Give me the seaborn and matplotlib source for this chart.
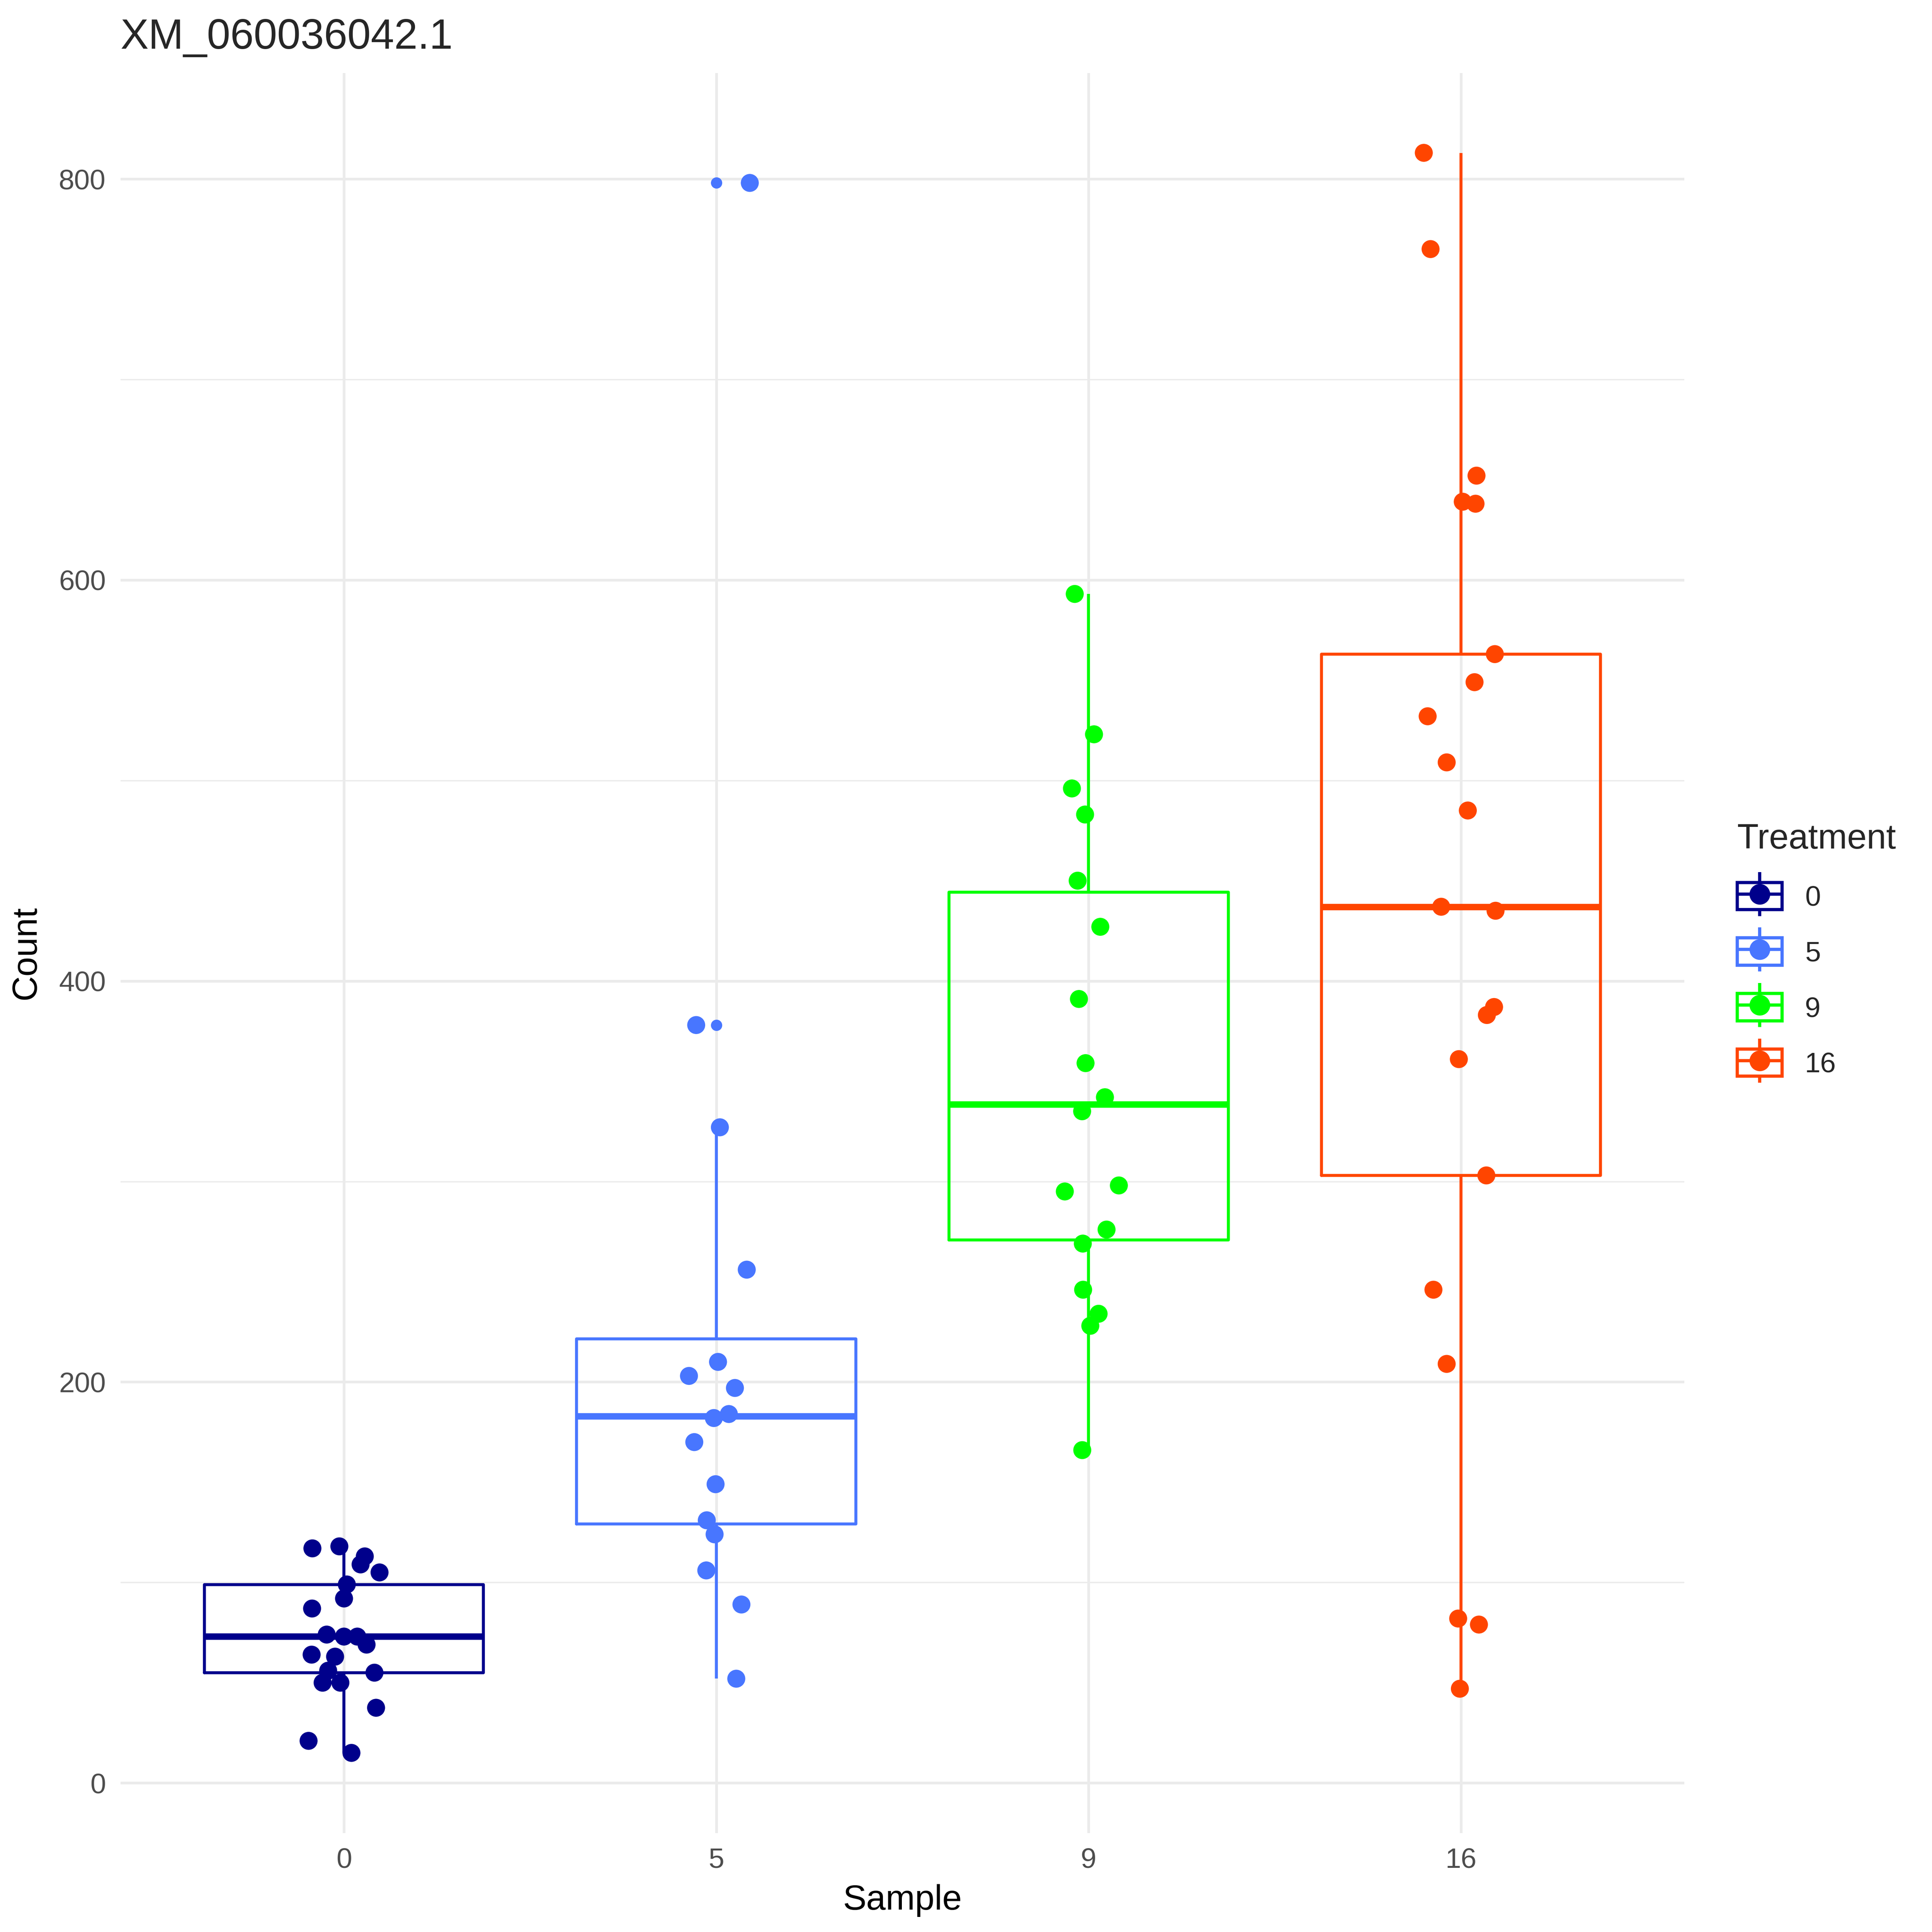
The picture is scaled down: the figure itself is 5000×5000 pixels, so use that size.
import numpy as np
import pandas as pd
import matplotlib
matplotlib.use("Agg")
import matplotlib.pyplot as plt
import seaborn as sns
from matplotlib.patches import Rectangle
from matplotlib.lines import Line2D
from matplotlib.legend_handler import HandlerTuple
from matplotlib.ticker import MultipleLocator

# counts per treatment
treatments = ["0", "5", "9", "16"]
colors = ["#00008B", "#4876FF", "#00FF00", "#FF4500"]

count_0 = [117, 113, 118, 109, 105, 99, 92, 87, 74, 73, 73, 69, 63, 64, 56, 55,
           50, 50, 37.5, 21, 15]
count_5 = [798, 378, 327, 256, 203, 210, 197, 184, 182, 170, 149, 131, 124, 106,
           89, 52]
count_9 = [593, 523, 496, 483, 450, 427, 391, 359, 342, 335, 298, 295, 276, 269,
           246, 234, 228, 166]
count_16 = [813, 765, 652, 639, 638, 563, 549, 532, 509, 485, 437, 435, 387, 383,
            361, 303, 246, 209, 82, 79, 47]

df = pd.DataFrame({
    "Sample": ["0"] * len(count_0) + ["5"] * len(count_5)
              + ["9"] * len(count_9) + ["16"] * len(count_16),
    "Count": count_0 + count_5 + count_9 + count_16,
})

sns.set_style("white")
plt.rcParams["font.family"] = ["Liberation Sans", "DejaVu Sans"]

fig = plt.figure(figsize=(10, 10), dpi=500)
ax = fig.add_axes([0.0624, 0.0513, 0.8094, 0.911])
pal = dict(zip(treatments, colors))

sns.boxplot(data=df, x="Sample", y="Count", hue="Sample", order=treatments,
            hue_order=treatments, palette=pal, fill=False, width=0.75,
            linewidth=1.1, showcaps=False, legend=False, ax=ax,
            medianprops=dict(linewidth=2.4),
            flierprops=dict(marker="o", markersize=4.2))
for ln in ax.lines:
    if ln.get_marker() == "o":
        ln.set_markerfacecolor(ln.get_markeredgecolor())
        ln.set_markeredgewidth(0)

np.random.seed(7)
sns.stripplot(data=df, x="Sample", y="Count", hue="Sample", order=treatments,
              hue_order=treatments, palette=pal, jitter=0.1, size=6.7,
              linewidth=0, legend=False, ax=ax, zorder=4)

vals = df["Count"]
rng = vals.max() - vals.min()
ax.set_ylim(vals.min() - 0.05 * rng, vals.max() + 0.05 * rng)
ax.set_xlim(-0.6, 3.6)
ax.yaxis.set_major_locator(MultipleLocator(200))
ax.yaxis.set_minor_locator(MultipleLocator(100))
ax.grid(True, which="major", color="#EBEBEB", linewidth=1.0, zorder=0)
ax.grid(True, which="minor", axis="y", color="#EBEBEB", linewidth=0.5, zorder=0)
ax.set_axisbelow(True)
for s in ax.spines.values():
    s.set_visible(False)
ax.tick_params(which="both", length=0, labelsize=10.5, labelcolor="#4D4D4D", pad=5.5)

ax.set_xlabel("Sample", fontsize=13.1, color="black", labelpad=4)
ax.set_ylabel("Count", fontsize=13.1, color="black", labelpad=6)
ax.set_title("XM_060036042.1", fontsize=15.7, loc="left", pad=9)

handles = []
for c in colors:
    whisk = Line2D([], [], color=c, marker="|", markersize=16.5, markeredgewidth=1.2,
                   linestyle="None")
    box = Rectangle((0, 0), 1, 1, facecolor="white", edgecolor=c, linewidth=1.2)
    pt = Line2D([], [], color=c, marker="o", markersize=6.7, linewidth=1.2)
    handles.append((whisk, box, pt))

leg = fig.legend(handles, treatments, title="Treatment", loc="center left",
                 bbox_to_anchor=(0.886, 0.508), frameon=False, fontsize=10.5,
                 title_fontsize=13.1, handlelength=1.6, handleheight=1.11,
                 labelspacing=0.94, handletextpad=0.8,
                 handler_map={tuple: HandlerTuple(ndivide=1, pad=0)})
leg._legend_box.align = "left"

fig.savefig("out.png", dpi=500)
